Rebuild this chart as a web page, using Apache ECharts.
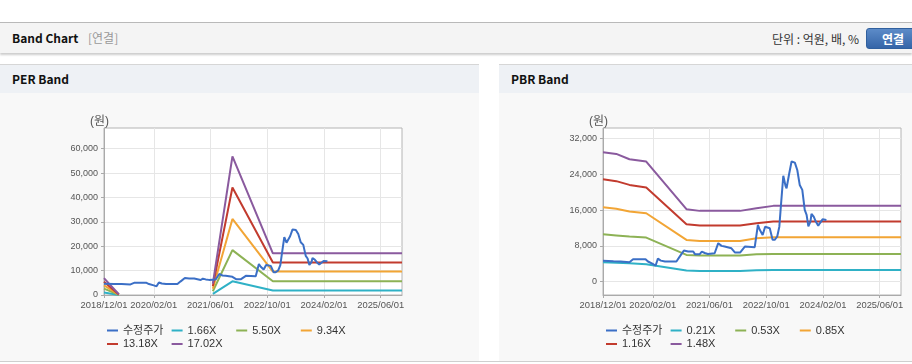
<!DOCTYPE html>
<html>
<head>
<meta charset="utf-8">
<script src="https://cdn.jsdelivr.net/npm/echarts@6/dist/echarts.min.js"></script>
<style>
    body {margin: 0; width: 912px; height: 364px; overflow: hidden; background: #fff; font-family: "Noto Sans CJK KR", "Liberation Sans", sans-serif; position: relative;}
    #topbar {position: absolute; left: 0; top: 22px; width: 912px; height: 30px; border-top: 1px solid #b9b9b9; background: #f4f4f4; box-shadow: 0 2px 2px rgba(0,0,0,0.2);}
    #topbar .t {position: absolute; left: 12px; top: 0; line-height: 30px; font-size: 12px; font-weight: bold; color: #111;}
    #topbar .sub {position: absolute; left: 88px; top: 0; line-height: 30px; font-size: 12px; color: #999;}
    #topbar .unit {position: absolute; right: 53px; top: 0; line-height: 31px; font-size: 12px; color: #333;}
    #topbar .btn {position: absolute; left: 866px; top: 5px; width: 52px; height: 19px; border-radius: 3px; background: linear-gradient(#5c8bc8, #3565a8); border: 1px solid #30609e; color: #fff; font-size: 12px; font-weight: bold; text-align: center; line-height: 19px; box-sizing: content-box;}
    .panel {position: absolute; top: 64px; height: 297px; background: #f8f8f8;}
    .panel .ph {height: 28px; border-top: 1px solid #d6d6d6; background: #eef1f5; font-size: 12px; font-weight: bold; color: #111; line-height: 28px; padding-left: 12px;}
    .panel .chart {position: absolute; left: 0; top: 29px; width: 100%; height: 268px;}
    #bottomline {position: absolute; left: 0; top: 361px; width: 912px; height: 1px; background: #cfcfcf;}
</style>
</head>
<body>
<div id="topbar">
    <span class="t">Band Chart</span><span class="sub">[연결]</span>
    <span class="unit">단위 : 억원, 배, %</span>
    <div class="btn">연결</div>
</div>
<div class="panel" style="left:0; width:479px;"><div class="ph">PER Band</div><div id="per-band" class="chart"></div></div>
<div class="panel" style="left:499px; width:413px;"><div class="ph">PBR Band</div><div id="pbr-band" class="chart"></div></div>
<div id="bottomline"></div>

<script>
// x축 눈금 라벨
var xTickLabels = ['2018/12/01', '2020/02/01', '2021/06/01', '2022/10/01', '2024/02/01', '2025/06/01'];
var xMin = '2018-12-01', xMax = '2025-12-01';

// 수정주가
var priceDates = ['2018-12-01', '2019-03-01', '2019-05-01', '2019-07-16', '2019-08-16', '2019-12-01', '2019-12-22', '2020-02-01', '2020-02-25', '2020-03-16',
    '2020-04-10', '2020-05-16', '2020-08-22', '2020-09-19', '2020-10-25', '2020-12-01', '2021-01-13', '2021-01-28', '2021-03-10', '2021-03-28',
    '2021-04-22', '2021-05-19', '2021-07-16', '2021-08-16', '2021-09-13', '2021-10-10', '2021-12-07', '2022-01-07', '2022-02-19', '2022-04-01',
    '2022-06-25', '2022-07-10', '2022-07-22', '2022-08-07', '2022-09-01', '2022-09-22', '2022-10-04', '2022-11-01', '2022-11-25', '2022-12-13',
    '2023-01-04', '2023-01-22', '2023-02-04', '2023-02-25', '2023-03-16', '2023-03-25', '2023-04-16', '2023-05-07', '2023-06-04', '2023-06-25',
    '2023-07-16', '2023-08-07', '2023-08-28', '2023-09-13', '2023-09-28', '2023-10-16', '2023-10-25', '2023-11-13', '2023-12-01', '2023-12-22',
    '2024-01-04', '2024-01-28', '2024-03-01'];
var priceValues = [4650, 4550, 4500, 4350, 5000, 5000, 4500, 3950, 3550, 5150,
    4700, 4500, 4500, 5600, 6950, 6750, 6750, 6150, 6150, 6700,
    6400, 6200, 6350, 8600, 8000, 7850, 7450, 6500, 6500, 7850,
    7700, 7850, 12700, 11600, 10450, 12300, 12500, 11950, 9350, 9350,
    10100, 12300, 16800, 23700, 21450, 20900, 24100, 26900, 26650, 25000,
    21650, 20550, 16050, 14950, 12350, 13450, 15150, 14550, 13450, 12500,
    13050, 13950, 13800];

// PER 밴드 (null = 구간 끊김)
var perNames = ['1.66X', '5.50X', '9.34X', '13.18X', '17.02X'];
var perDates = ['2018-12-01', '2019-04-07', '2020-06-01', '2021-06-22', '2021-12-07', '2022-11-19', '2025-12-01'];
var per166 = [1000, 30, null, 450, 5600, 1850, 1850];
var per550 = [2600, 90, null, 1550, 18400, 5620, 5620];
var per934 = [3950, 160, null, 2600, 31200, 9600, 9600];
var per1318 = [5400, 230, null, 3650, 44100, 13350, 13350];
var per1702 = [6900, 300, null, 4700, 56900, 17100, 17100];

// PBR 밴드
var pbrNames = ['0.21X', '0.53X', '0.85X', '1.16X', '1.48X'];
var pbrDates = ['2018-12-01', '2019-03-25', '2019-07-16', '2019-12-07', '2020-11-16', '2021-03-10', '2022-02-19', '2022-07-10', '2022-12-01', '2025-12-01'];
var pbr021 = [4330, 4250, 4110, 3880, 2470, 2390, 2390, 2550, 2610, 2610];
var pbr053 = [10610, 10350, 10080, 9860, 5980, 5830, 5830, 6100, 6200, 6200];
var pbr085 = [16660, 16300, 15690, 15310, 9340, 9110, 9110, 9710, 9935, 9935];
var pbr116 = [22930, 22500, 21660, 21070, 12850, 12550, 12550, 13070, 13450, 13450];
var pbr148 = [28980, 28600, 27400, 26890, 16210, 15840, 15840, 16430, 16960, 16960];

// y축 눈금
var perYTicks = [0, 10000, 20000, 30000, 40000, 50000, 60000];
var pbrYTicks = [0, 8000, 16000, 24000, 32000];

var lineColors = ['#3b6fc6', '#2fb1c6', '#8db255', '#f2a535', '#c23b2e', '#8a5a9e'];
var chartFont = '"Liberation Sans", "Noto Sans CJK KR", sans-serif';

function toTime(d) {
    return +echarts.time.parse(d.replace(/\//g, '-'));
}

function pairs(dates, values) {
    return dates.map(function (d, i) { return [toTime(d), values[i] == null ? '-' : values[i]]; });
}

function lineSeries(name, data, z) {
    return {name: name, type: 'line', data: data, showSymbol: false, symbol: 'none', connectNulls: false,
        lineStyle: {width: 2}, z: z, animation: false};
}

function bandOption(bandNames, bandDates, bandValues, yMin, yMax, yTicks) {
    var xTicks = xTickLabels.map(toTime);
    var series = [lineSeries('수정주가', pairs(priceDates, priceValues), 5)];
    for (var i = 0; i < bandNames.length; i++) {
        series.push(lineSeries(bandNames[i], pairs(bandDates, bandValues[i]), 2));
    }
    var names = ['수정주가'].concat(bandNames);
    var legendBase = {left: 107, padding: 0, itemWidth: 11, itemHeight: 2, itemGap: 4.6, icon: 'rect',
        textStyle: {fontSize: 11, width: 44, color: '#333', fontFamily: chartFont, lineHeight: 13}};
    return {
        color: lineColors,
        animation: false,
        textStyle: {fontFamily: chartFont},
        title: {text: '(원)', left: 85, top: 18, textStyle: {fontSize: 12, fontWeight: 'normal', color: '#555', fontFamily: chartFont}},
        grid: {left: 104, width: 298, top: 35, bottom: 66, show: true, backgroundColor: '#fff', borderColor: '#b4b4b4', borderWidth: 1},
        legend: [
            Object.assign({}, legendBase, {top: 231, data: names.slice(0, 4)}),
            Object.assign({}, legendBase, {top: 244.5, data: names.slice(4)})
        ],
        xAxis: {type: 'value', min: toTime(xMin), max: toTime(xMax),
            axisLine: {onZero: false, lineStyle: {color: '#aaa'}},
            axisTick: {customValues: xTicks, length: 3, lineStyle: {color: '#aaa'}},
            axisLabel: {customValues: xTicks, fontSize: 9.4, color: '#555', margin: 6, hideOverlap: false,
                formatter: function (v) { return echarts.time.format(v, '{yyyy}/{MM}/{dd}', false); }},
            splitLine: {show: true, lineStyle: {color: '#e6e6e6'}}},
        yAxis: {type: 'value', min: yMin, max: yMax,
            axisLine: {show: true, lineStyle: {color: '#aaa'}},
            axisTick: {show: true, customValues: yTicks, length: 3, lineStyle: {color: '#aaa'}},
            axisLabel: {customValues: yTicks, fontSize: 9, color: '#555', margin: 6,
                formatter: function (v) { return echarts.format.addCommas(v); }},
            splitLine: {show: true, lineStyle: {color: '#e6e6e6'}}},
        series: series
    };
}

function createPerBand() {//PER 밴드
    var perChart = echarts.init(document.getElementById('per-band'));
    perChart.setOption(bandOption(perNames, perDates, [per166, per550, per934, per1318, per1702], 0, 68500, perYTicks));
}

function createPbrBand() {//PBR 밴드
    var pbrChart = echarts.init(document.getElementById('pbr-band'));
    pbrChart.setOption(bandOption(pbrNames, pbrDates, [pbr021, pbr053, pbr085, pbr116, pbr148], -3000, 34400, pbrYTicks));
}

createPerBand();
createPbrBand();
</script>
</body>
</html>
